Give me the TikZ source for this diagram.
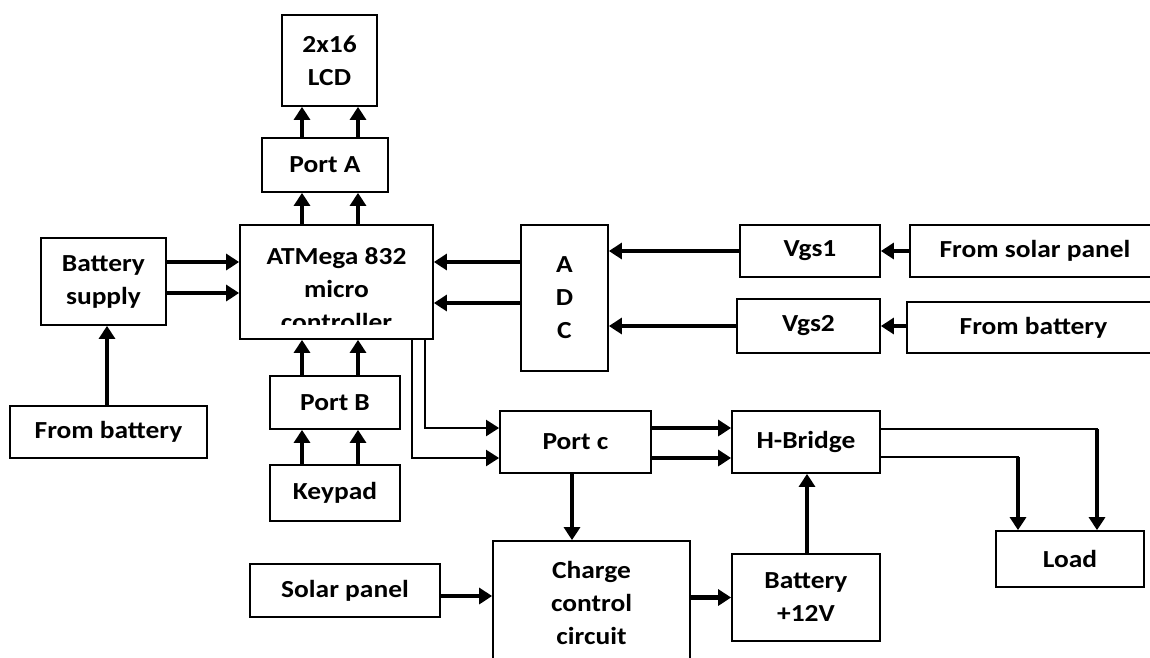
\documentclass[tikz,border=0pt]{standalone}
\usepackage{fontspec}
\setmainfont{Carlito}[FakeStretch=1.12]
\usetikzlibrary{arrows.meta}

\begin{document}
\begin{tikzpicture}[
  x=1pt,y=-1pt,
  every node/.style={font=\bfseries\fontsize{24.5}{33}\selectfont},
  blk/.style={draw,line width=1.8pt,align=center,inner sep=0pt},
  txt/.style={align=center,inner sep=0pt},
  arr/.style={line width=4.8pt,-{Triangle[length=13pt,width=16pt]}},
  wire/.style={line width=2.2pt},
  warr/.style={wire,-{Triangle[length=13pt,width=16pt]}}
]
  \useasboundingbox (0,0) rectangle (1150,657);

  \node[blk,minimum width=95,minimum height=91] (lcd) at (329.5,60.5) {2x16\\LCD};
  \node[blk,minimum width=126,minimum height=54] (porta) at (325,165) {Port A};
  \node[blk,minimum width=193,minimum height=114] (mcu) at (336.5,282) {};
  \node[blk,minimum width=125,minimum height=87] (bsup) at (103.5,281.5) {Battery\\supply};
  \node[blk,minimum width=197,minimum height=52] (fbat1) at (108.5,432) {From battery};
  \node[blk,minimum width=130,minimum height=53] (portb) at (335,402.5) {Port B};
  \node[blk,minimum width=130,minimum height=56] (keypad) at (335,493) {Keypad};
  \node[blk,minimum width=87,minimum height=146] (adc) at (564.5,298) {A\\D\\C};
  \node[blk,minimum width=140,minimum height=52] (vgs1) at (810,251) {Vgs1};
  \node[blk,minimum width=143,minimum height=54] (vgs2) at (808.5,326) {Vgs2};
  \node[blk,minimum width=250,minimum height=52] (fsolar) at (1035,251) {From solar panel};
  \node[blk,minimum width=253,minimum height=51] (fbat2) at (1033.5,327.5) {From battery};
  \node[blk,minimum width=151,minimum height=62] (portc) at (575.5,442) {Port c};
  \node[blk,minimum width=148,minimum height=62] (hbr) at (806,442) {H-Bridge};
  \node[blk,minimum width=148,minimum height=56] (load) at (1070,559) {Load};
  \node[blk,minimum width=197,minimum height=124] (charge) at (591.5,603) {Charge\\control\\circuit};
  \node[blk,minimum width=190,minimum height=53] (spanel) at (345,590.5) {Solar panel};
  \node[blk,minimum width=148,minimum height=87] (bat12) at (806,597.5) {Battery\\+12V};

  % text of the controller, cut off by its box
  \begin{scope}
    \clip ([yshift=15]mcu.south west) rectangle (mcu.north east);
    \node[txt] (mcutext) at (336.5,289) {ATMega 832\\micro\\controller};
  \end{scope}

  \foreach \dx in {-23,33} {
    \draw[arr] ([xshift=\dx]porta.north) -- ([xshift=\dx]porta.north |- lcd.south);
    \draw[arr] ([xshift=\dx]porta.south |- mcu.north) -- ([xshift=\dx]porta.south);
  }
  \foreach \dx in {-33,23} {
    \draw[arr] ([xshift=\dx]portb.north) -- ([xshift=\dx]portb.north |- mcu.south);
    \draw[arr] ([xshift=\dx]keypad.north) -- ([xshift=\dx]keypad.north |- portb.south);
  }
  \foreach \dy in {19.5,-11.5}
    \draw[arr] ([yshift=\dy]bsup.east) -- ([yshift=\dy]bsup.east -| mcu.west);
  \draw[arr] ([xshift=-1.5]fbat1.north) -- ([xshift=-1.5]fbat1.north |- bsup.south);

  \foreach \dy in {36,-5}
    \draw[arr] ([yshift=\dy]adc.west) -- ([yshift=\dy]adc.west -| mcu.east);
  \draw[arr] (vgs1.west) -- (vgs1.west -| adc.east);
  \draw[arr] (vgs2.west) -- (vgs2.west -| adc.east);
  \draw[arr] (fsolar.west) -- (fsolar.west -| vgs1.east);
  \draw[arr] ([yshift=1.5]fbat2.west) -- ([yshift=1.5]fbat2.west -| vgs2.east);

  \draw[warr] ([xshift=88.5]mcu.south) |- ([yshift=14]portc.west);
  \draw[warr] ([xshift=75.5]mcu.south) |- ([yshift=-16]portc.west);
  \foreach \dy in {14,-16}
    \draw[arr] ([yshift=\dy]portc.east) -- ([yshift=\dy]portc.east -| hbr.west);
  \draw[arr] ([xshift=-3.5]portc.south) -- ([xshift=-3.5]portc.south |- charge.north);
  \draw[arr] ([yshift=-5.5]spanel.east) -- ([yshift=-5.5]spanel.east -| charge.west);
  \draw[arr] (bat12.west -| charge.east) -- (bat12.west);
  \draw[arr] ([xshift=1]bat12.north) -- ([xshift=1]bat12.north |- hbr.south);

  \coordinate (ld1) at (1097,429);
  \coordinate (ld2) at (1018,457);
  \draw[wire] ([yshift=13]hbr.east) -- ([xshift=1]ld1);
  \draw[wire] ([yshift=-15]hbr.east) -- ([xshift=1]ld2);
  \draw[arr] (ld1) -- (ld1 |- load.north);
  \draw[arr] (ld2) -- (ld2 |- load.north);
\end{tikzpicture}
\end{document}
